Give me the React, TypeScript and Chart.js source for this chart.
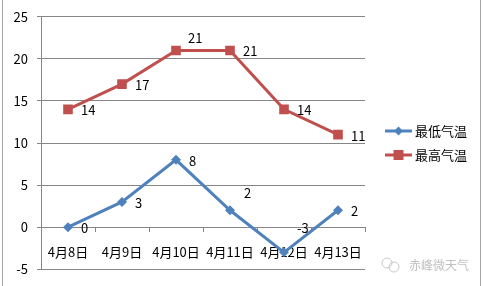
import React, { useEffect, useRef } from "react";
import { Chart, registerables } from "chart.js";

Chart.register(...registerables);

// ---- data ----
const categories = ["4月8日", "4月9日", "4月10日", "4月11日", "4月12日", "4月13日"];
const lowTemps = [0, 3, 8, 2, -3, 2];
const highTemps = [14, 17, 21, 21, 14, 11];
const seriesNames = ["最低气温", "最高气温"];
const yMin = -5;
const yMax = 25;
const yStep = 5;
const watermarkText = "赤峰微天气";

// ---- style ----
const FONT = '"Noto Sans CJK SC", "Liberation Sans", sans-serif';
const BLUE = "#4f81bd";
const RED = "#c0504d";
const GRID = "#868686";
const LABEL_DX = 13;
const LABEL_DY = 1;
// per-label nudges (datasetIndex-pointIndex) to mimic the original label placement
const labelNudge: Record<string, [number, number]> = {
  "0-3": [1, -18],
  "0-4": [0, -25],
  "1-2": [-1, -13],
};

const pointLabelsPlugin = {
  id: "pointLabels",
  afterDatasetsDraw(chart: any) {
    const ctx = chart.ctx;
    ctx.save();
    ctx.font = `13px ${FONT}`;
    ctx.fillStyle = "#000";
    ctx.textAlign = "left";
    ctx.textBaseline = "middle";
    chart.data.datasets.forEach((ds: any, di: number) => {
      const meta = chart.getDatasetMeta(di);
      meta.data.forEach((pt: any, i: number) => {
        const n = labelNudge[`${di}-${i}`] || [0, 0];
        ctx.fillText(String(ds.data[i]), pt.x + LABEL_DX + n[0], pt.y + LABEL_DY + n[1]);
      });
    });
    ctx.restore();
  },
};

const decorPlugin = {
  id: "decor",
  afterDraw(chart: any) {
    const ctx = chart.ctx;
    ctx.save();
    // outer frame lines
    ctx.strokeStyle = "#a6a6a6";
    ctx.lineWidth = 1;
    ctx.beginPath();
    ctx.moveTo(2.5, 0);
    ctx.lineTo(2.5, chart.height);
    ctx.moveTo(480.5, 0);
    ctx.lineTo(480.5, chart.height);
    ctx.stroke();

    // legend
    const area = chart.chartArea;
    const lx0 = area.right + 20;
    const lx1 = lx0 + 27;
    const rows = [131, 155];
    chart.data.datasets.forEach((ds: any, di: number) => {
      const y = rows[di];
      const c = ds.borderColor;
      ctx.strokeStyle = c;
      ctx.lineWidth = 3;
      ctx.beginPath();
      ctx.moveTo(lx0, y);
      ctx.lineTo(lx1, y);
      ctx.stroke();
      const cx = (lx0 + lx1) / 2;
      ctx.fillStyle = c;
      ctx.beginPath();
      if (ds.pointStyle === "rectRot") {
        const r = 4.5;
        ctx.moveTo(cx, y - r);
        ctx.lineTo(cx + r, y);
        ctx.lineTo(cx, y + r);
        ctx.lineTo(cx - r, y);
        ctx.closePath();
      } else {
        ctx.rect(cx - 5, y - 5, 10, 10);
      }
      ctx.fill();
      ctx.fillStyle = "#000";
      ctx.font = `13px ${FONT}`;
      ctx.textAlign = "left";
      ctx.textBaseline = "middle";
      ctx.fillText(ds.label, lx1 + 3, y);
    });

    // watermark
    ctx.strokeStyle = "#c8c8c8";
    ctx.lineWidth = 1;
    ctx.beginPath();
    ctx.arc(387, 263, 5, 0, Math.PI * 2);
    ctx.stroke();
    ctx.beginPath();
    ctx.arc(394, 267, 5, 0, Math.PI * 2);
    ctx.stroke();
    ctx.fillStyle = "#c0c0c0";
    ctx.font = `12px ${FONT}`;
    ctx.textAlign = "left";
    ctx.textBaseline = "middle";
    ctx.fillText(watermarkText, 409, 265);
    ctx.restore();
  },
};

export default function App() {
  const canvasRef = useRef<HTMLCanvasElement | null>(null);

  useEffect(() => {
    if (!canvasRef.current) return;
    const chart = new Chart(canvasRef.current, {
      type: "line",
      data: {
        labels: categories,
        datasets: [
          {
            label: seriesNames[0],
            data: lowTemps,
            borderColor: BLUE,
            backgroundColor: BLUE,
            borderWidth: 3,
            pointStyle: "rectRot",
            pointRadius: 5,
            pointBorderWidth: 0,
            tension: 0,
          },
          {
            label: seriesNames[1],
            data: highTemps,
            borderColor: RED,
            backgroundColor: RED,
            borderWidth: 3,
            pointStyle: "rect",
            pointRadius: 6.8,
            pointBorderWidth: 0,
            tension: 0,
          },
        ],
      },
      options: {
        responsive: false,
        animation: false,
        devicePixelRatio: 1,
        layout: { padding: { left: 0, top: 13, right: 118, bottom: 14 } },
        plugins: { legend: { display: false }, tooltip: { enabled: false } },
        scales: {
          x: {
            type: "category",
            position: { y: 0 } as any,
            offset: true,
            grid: { offset: true, drawOnChartArea: false, tickLength: 4, color: GRID },
            border: { display: true, color: GRID },
            ticks: { font: { family: FONT, size: 13 }, color: "#000", padding: 13, maxRotation: 0 },
            afterFit: (s: any) => {
              s.height = 0;
            },
          },
          y: {
            min: yMin,
            max: yMax,
            ticks: { stepSize: yStep, font: { family: FONT, size: 13 }, color: "#000", padding: 9 },
            grid: { color: GRID, tickLength: 4 },
            border: { display: true, color: GRID },
            afterFit: (s: any) => {
              s.width = 41;
            },
          },
        },
      },
      plugins: [pointLabelsPlugin, decorPlugin],
    });
    return () => chart.destroy();
  }, []);

  return (
    <div style={{ position: "absolute", left: 0, top: 0, width: 483, height: 286, background: "#fff" }}>
      <canvas ref={canvasRef} width={483} height={286} style={{ display: "block" }} />
    </div>
  );
}
